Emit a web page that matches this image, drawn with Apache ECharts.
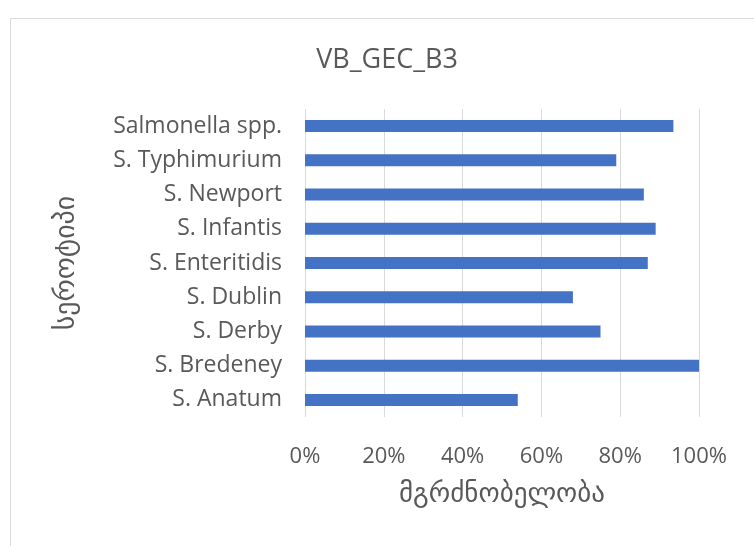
<!DOCTYPE html>
<html>
<head>
<meta charset="utf-8">
<script src="https://cdn.jsdelivr.net/npm/echarts@6/dist/echarts.min.js"></script>
<style>
  html, body { margin: 0; padding: 0; background: #fff; }
  #main { width: 754px; height: 546px; }
</style>
</head>
<body>
<div id="main"></div>
<script>
// categories bottom -> top (category axis starts at the bottom)
var serotypes = ['S. Anatum', 'S. Bredeney', 'S. Derby', 'S. Dublin', 'S. Enteritidis',
  'S. Infantis', 'S. Newport', 'S. Typhimurium', 'Salmonella spp.'];
var sensitivity = [0.54, 1.00, 0.75, 0.68, 0.87, 0.89, 0.86, 0.79, 0.935];
var xTicks = [0, 0.2, 0.4, 0.6, 0.8, 1.0];

var titleText = 'VB_GEC_B3';
var xName = 'მგრძნობელობა';
var yName = 'სეროტიპი';

var txt = '#595959';
var font = "'Open Sans', 'DejaVu Sans', sans-serif";
var geoFont = "'DejaVu Sans', sans-serif";

var myChart = echarts.init(document.getElementById('main'));
myChart.setOption({
  backgroundColor: '#fff',
  animation: false,
  graphic: [{
    type: 'rect',
    shape: { x: 10.5, y: 18.5, width: 800, height: 600 },
    style: { fill: 'none', stroke: '#d9d9d9', lineWidth: 1 }
  }],
  title: {
    text: titleText,
    left: 382, top: 42, textAlign: 'center',
    textStyle: { color: txt, fontSize: 27, fontWeight: 'normal', fontFamily: font }
  },
  grid: { left: 305, top: 109, width: 394, height: 308 },
  xAxis: {
    type: 'value',
    min: xTicks[0], max: xTicks[xTicks.length - 1], interval: 0.2,
    name: xName, nameLocation: 'middle', nameGap: 64,
    nameTextStyle: { color: txt, fontSize: 27, fontFamily: geoFont },
    axisLine: { show: false },
    axisTick: { show: false },
    axisLabel: {
      color: txt, fontSize: 22, fontFamily: font, margin: 29,
      formatter: function (v) { return Math.round(v * 100) + '%'; }
    },
    splitLine: { lineStyle: { color: '#d9d9d9', width: 1 } }
  },
  yAxis: {
    type: 'category',
    data: serotypes,
    name: yName, nameLocation: 'middle', nameGap: 224, nameRotate: 90,
    nameTextStyle: { color: txt, fontSize: 28, fontFamily: geoFont },
    axisLine: { show: false },
    axisTick: { show: false },
    axisLabel: { color: txt, fontSize: 23, fontFamily: font, margin: 23 }
  },
  series: [{
    type: 'bar',
    data: sensitivity,
    barWidth: 12,
    itemStyle: { color: '#4472c4' }
  }]
});
</script>
</body>
</html>
